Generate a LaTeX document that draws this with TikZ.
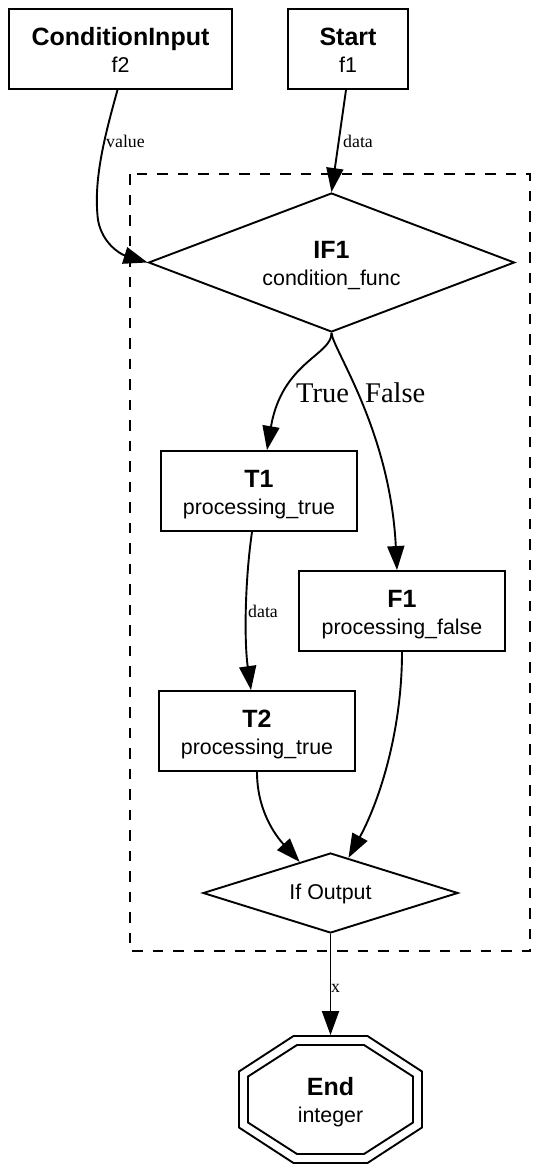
\documentclass[tikz,border=0pt]{standalone}
\usepackage{fontspec}
\setmainfont{Liberation Sans}
\newfontfamily\edgefont{Liberation Serif}
\usetikzlibrary{shapes.geometric,arrows.meta,calc}
\newcommand{\twol}[2]{{\fontsize{25}{27}\selectfont\bfseries\rule{0pt}{24pt}#1}\\\rule[-5pt]{0pt}{5pt}#2}
\tikzset{
  base/.style={font=\fontsize{21.4}{27}\selectfont, align=center, inner sep=0pt, line width=1.9pt},
  boxnode/.style={base, draw, rectangle, minimum height=80pt},
  dia/.style={base, draw, diamond},
  arr/.style={line width=1.9pt, -{Triangle[length=24pt,width=17pt]}},
  elab/.style={font=\edgefont\fontsize{17.8}{20}\selectfont, inner sep=0pt, anchor=base west},
  blab/.style={font=\edgefont\fontsize{28.5}{32}\selectfont, inner sep=0pt, anchor=base west},
  cluster/.style={line width=1.9pt, dash pattern=on 10.5pt off 10pt}
}
\begin{document}
\begin{tikzpicture}[x=1pt,y=-1pt]
\fill[white] (0,0) rectangle (557,1172);
\useasboundingbox (0,0) rectangle (557,1172);

\draw[cluster] (130,174) rectangle (530,951);

\node[boxnode, minimum width=223pt] (ci) at (120.5,49) {\twol{ConditionInput}{f2}};
\node[boxnode, minimum width=120pt] (start) at (348,49) {\twol{Start}{f1}};
\node[dia, minimum width=366pt, minimum height=139pt, shape aspect=2.6] (if1) at (331.5,262.5) {\twol{IF1}{condition\_func}};
\node[boxnode, minimum width=196pt] (t1) at (259,491) {\twol{T1}{processing\_true}};
\node[boxnode, minimum width=206pt] (f1) at (402,611) {\twol{F1}{processing\_false}};
\node[boxnode, minimum width=196pt] (t2) at (257,731) {\twol{T2}{processing\_true}};
\node[dia, minimum width=255pt, minimum height=80pt, shape aspect=3.2] (ifo) at (330.5,893) {\rule[-4pt]{0pt}{22pt}If Output};
\node[base, minimum width=183pt, minimum height=127pt] (end) at (330.5,1099.5) {\twol{End}{integer}};

% double octagon of End
\draw[line width=1.9pt] ($(end.center)+(-37,-63.5)$) -- ($(end.center)+(37,-63.5)$) -- ($(end.center)+(91.5,-28)$) -- ($(end.center)+(91.5,28)$) -- ($(end.center)+(37,63.5)$) -- ($(end.center)+(-37,63.5)$) -- ($(end.center)+(-91.5,28)$) -- ($(end.center)+(-91.5,-28)$) -- cycle;
\draw[line width=1.9pt] ($(end.center)+(-33.5,-54.5)$) -- ($(end.center)+(33.5,-54.5)$) -- ($(end.center)+(82.5,-23)$) -- ($(end.center)+(82.5,23)$) -- ($(end.center)+(33.5,54.5)$) -- ($(end.center)+(-33.5,54.5)$) -- ($(end.center)+(-82.5,23)$) -- ($(end.center)+(-82.5,-23)$) -- cycle;

% connectors
\draw[arr] ($(ci.south)+(-3,0)$) .. controls (105,135) and (93,180) .. (98,220) .. controls (102,243) and (120,254) .. (if1.west);
\draw[arr] ($(start.south)+(-2,0)$) -- (if1.north);
\draw[arr] (if1.south) .. controls (332,355) and (282,362) .. ($(t1.north)+(8,0)$);
\draw[arr] (if1.south) .. controls (333,350) and (390,430) .. ($(f1.north)+(-5,0)$);
\draw[arr] ($(t1.south)+(-7,0)$) .. controls (245,580) and (244,640) .. ($(t2.north)+(-6,0)$);
\draw[arr] (t2.south) .. controls (257,810) and (275,835) .. ($(ifo.north)!0.24!(ifo.west)$);
\draw[arr] (f1.south) .. controls (402,730) and (380,800) .. ($(ifo.north)!0.14!(ifo.east)$);
\draw[arr] (ifo.south) -- (end.north);

% edge labels
\node[elab] (lvalue) at (106,147) {value};
\node[elab] (ldata1) at (343,147) {data};
\node[blab] (ltrue) at (296,402) {True};
\node[blab] (lfalse) at (365,402) {False};
\node[elab] (ldata2) at (248,617) {data};
\node[elab] (lx) at (331,992) {x};
\end{tikzpicture}
\end{document}
